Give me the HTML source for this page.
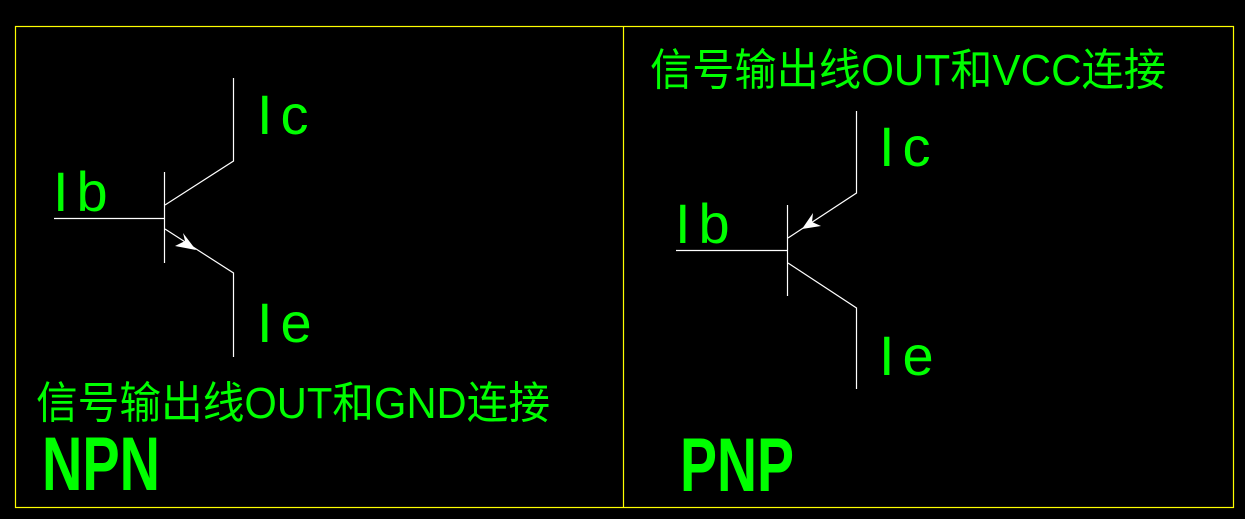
<!DOCTYPE html>
<html><head><meta charset="utf-8"><style>
html,body{margin:0;padding:0;background:#000;width:1245px;height:519px;overflow:hidden}
svg{display:block}
text{fill:#00ff00;font-family:"Liberation Sans","Noto Sans CJK SC",sans-serif}
</style></head><body>
<svg width="1245" height="519" viewBox="0 0 1245 519" xmlns="http://www.w3.org/2000/svg">
<g stroke="#ffff00" stroke-width="1.2" fill="none">
<rect x="15.5" y="26.5" width="1218" height="481"/>
<line x1="623.5" y1="26" x2="623.5" y2="508"/>
</g>
<g stroke="#fff" stroke-width="1.2" fill="none">
<line x1="54" y1="218.5" x2="164" y2="218.5"/>
<line x1="164.5" y1="172" x2="164.5" y2="263"/>
<polyline points="165,205 233.5,161 233.5,78"/>
<polyline points="165,229 233.5,273 233.5,357"/>
<line x1="676" y1="250.5" x2="787" y2="250.5"/>
<line x1="787.5" y1="205" x2="787.5" y2="296"/>
<polyline points="788,238 856.5,193 856.5,111"/>
<polyline points="788,263 856.5,308 856.5,389"/>
</g>
<g fill="#fff">
<polygon points="196,250 183,233 185,241 175,246"/>
<polygon points="802,229 813,213 812,222 821,226"/>
</g>
<g font-size="56" letter-spacing="8">
<text x="257" y="134">Ic</text>
<text x="53" y="211">Ib</text>
<text x="257" y="342">Ie</text>
<text x="879" y="166">Ic</text>
<text x="675" y="243">Ib</text>
<text x="879" y="375">Ie</text>
</g>
<text x="36" y="418" font-size="44" textLength="514" lengthAdjust="spacingAndGlyphs">信号输出线OUT和GND连接</text>
<text x="650" y="85" font-size="44" textLength="516" lengthAdjust="spacingAndGlyphs">信号输出线OUT和VCC连接</text>
<text x="42" y="490" font-size="76" font-weight="bold" textLength="118" lengthAdjust="spacingAndGlyphs">NPN</text>
<text x="680" y="491" font-size="76" font-weight="bold" textLength="114" lengthAdjust="spacingAndGlyphs">PNP</text>
</svg>
</body></html>
